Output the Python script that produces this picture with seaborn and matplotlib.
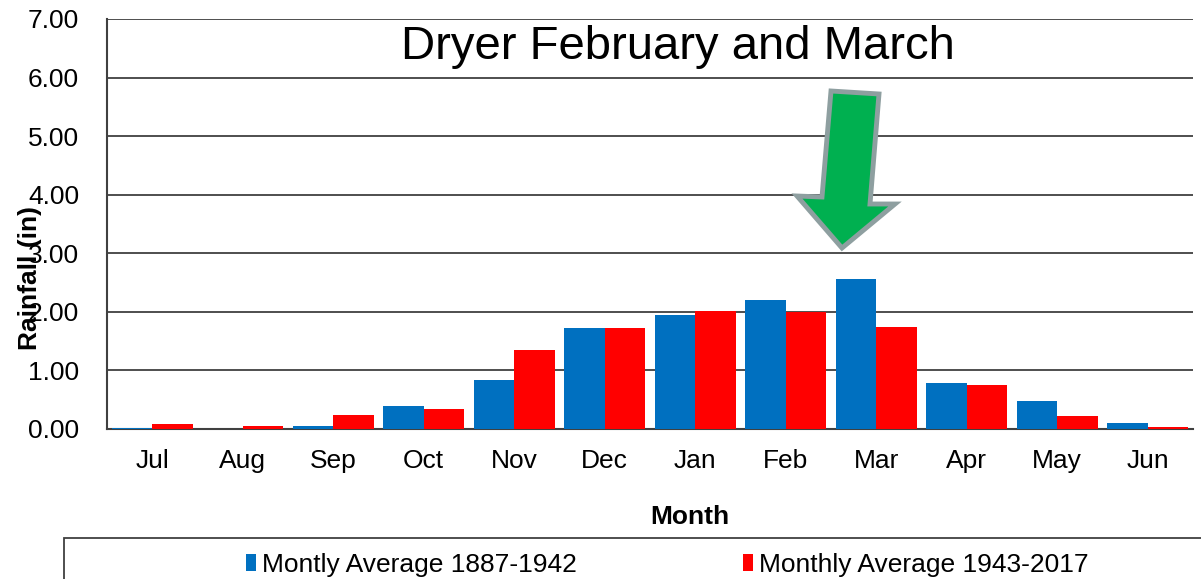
import numpy as np
import pandas as pd
import seaborn as sns
import matplotlib.pyplot as plt
from matplotlib.patches import Polygon, Rectangle

# data
months = ['Jul', 'Aug', 'Sep', 'Oct', 'Nov', 'Dec', 'Jan', 'Feb', 'Mar', 'Apr', 'May', 'Jun']
avg_1887_1942 = [0.02, 0.00, 0.05, 0.40, 0.84, 1.73, 1.94, 2.21, 2.56, 0.78, 0.47, 0.10]
avg_1943_2017 = [0.09, 0.05, 0.24, 0.35, 1.35, 1.73, 2.01, 1.99, 1.74, 0.75, 0.23, 0.03]
series_names = ['Montly Average 1887-1942', 'Monthly Average 1943-2017']

df = pd.DataFrame({
    'Month': months * 2,
    'Rainfall': avg_1887_1942 + avg_1943_2017,
    'Series': [series_names[0]] * 12 + [series_names[1]] * 12,
})

sns.set_style('white')
plt.rcParams['font.family'] = ['Liberation Sans', 'DejaVu Sans']
plt.rcParams['text.color'] = 'black'
plt.rcParams['axes.labelcolor'] = 'black'

W, H = 1201, 579
fig = plt.figure(figsize=(W / 100, H / 100), dpi=100)
ax = fig.add_axes([107 / W, 1 - 429 / H, 1086 / W, 410 / H])

sns.barplot(data=df, x='Month', y='Rainfall', hue='Series', order=months,
            hue_order=series_names, palette=['#0070C0', '#FF0000'],
            saturation=1, width=0.9, gap=0, edgecolor='none', linewidth=0,
            ax=ax, zorder=3)

handles, labels = ax.get_legend_handles_labels()
ax.get_legend().remove()

dark = '#404040'
ax.set_ylim(0, 7)
ax.set_xlim(-0.5, 11.5)
ax.set_yticks(np.arange(0, 8, 1))
ax.set_yticklabels([f'{v:.2f}' for v in range(8)])
ax.set_xticks(np.arange(-0.5, 12, 1), minor=True)
ax.yaxis.grid(True, color=dark, linewidth=1.3, zorder=0)
ax.set_axisbelow(True)

for side in ['top', 'right']:
    ax.spines[side].set_visible(False)
for side in ['left', 'bottom']:
    ax.spines[side].set_color(dark)
    ax.spines[side].set_linewidth(1.5)

ax.tick_params(axis='x', which='major', length=0, labelsize=19, pad=14.5,
               labelcolor='black')
ax.tick_params(axis='x', which='minor', length=8, width=1.3, color=dark, direction='out')
ax.tick_params(axis='y', length=8, width=1.3, color=dark, direction='out',
               labelsize=19, pad=12, labelcolor='black')

ax.set_xlabel('Month', fontsize=19, fontweight='bold')
ax.xaxis.set_label_coords(0.537, -0.185)
ax.set_ylabel('Rainfall (in)', fontsize=19, fontweight='bold', va='center')
ax.yaxis.set_label_coords(-0.071, 0.368)

# annotation text
fig.text(678 / W, 1 - 59 / H, 'Dryer February and March', fontsize=34,
         ha='center', va='baseline')

# green arrow pointing at March
arrow_px = [(831, 91), (879, 94), (870, 204), (895, 204), (842, 248), (797, 196), (822, 197)]
arrow = Polygon([(x / W, 1 - y / H) for x, y in arrow_px], closed=True,
                transform=fig.transFigure, facecolor='#00B050',
                edgecolor='#8E9FA0', linewidth=3.5, zorder=10)
fig.patches.append(arrow)

# legend box at the bottom, running off the figure edge
box = Rectangle((64 / W, -0.05), 1.1, 0.05 + 41 / H, transform=fig.transFigure,
                fill=False, edgecolor=dark, linewidth=1.3, clip_on=False)
fig.patches.append(box)

fig.legend(handles, labels, loc='center', bbox_to_anchor=(667 / W, 1 - 565 / H),
           ncol=2, frameon=False, fontsize=19, handlelength=0.4, handleheight=0.6,
           handletextpad=0.2, columnspacing=6.3)

fig.savefig('out.png', dpi=100)
